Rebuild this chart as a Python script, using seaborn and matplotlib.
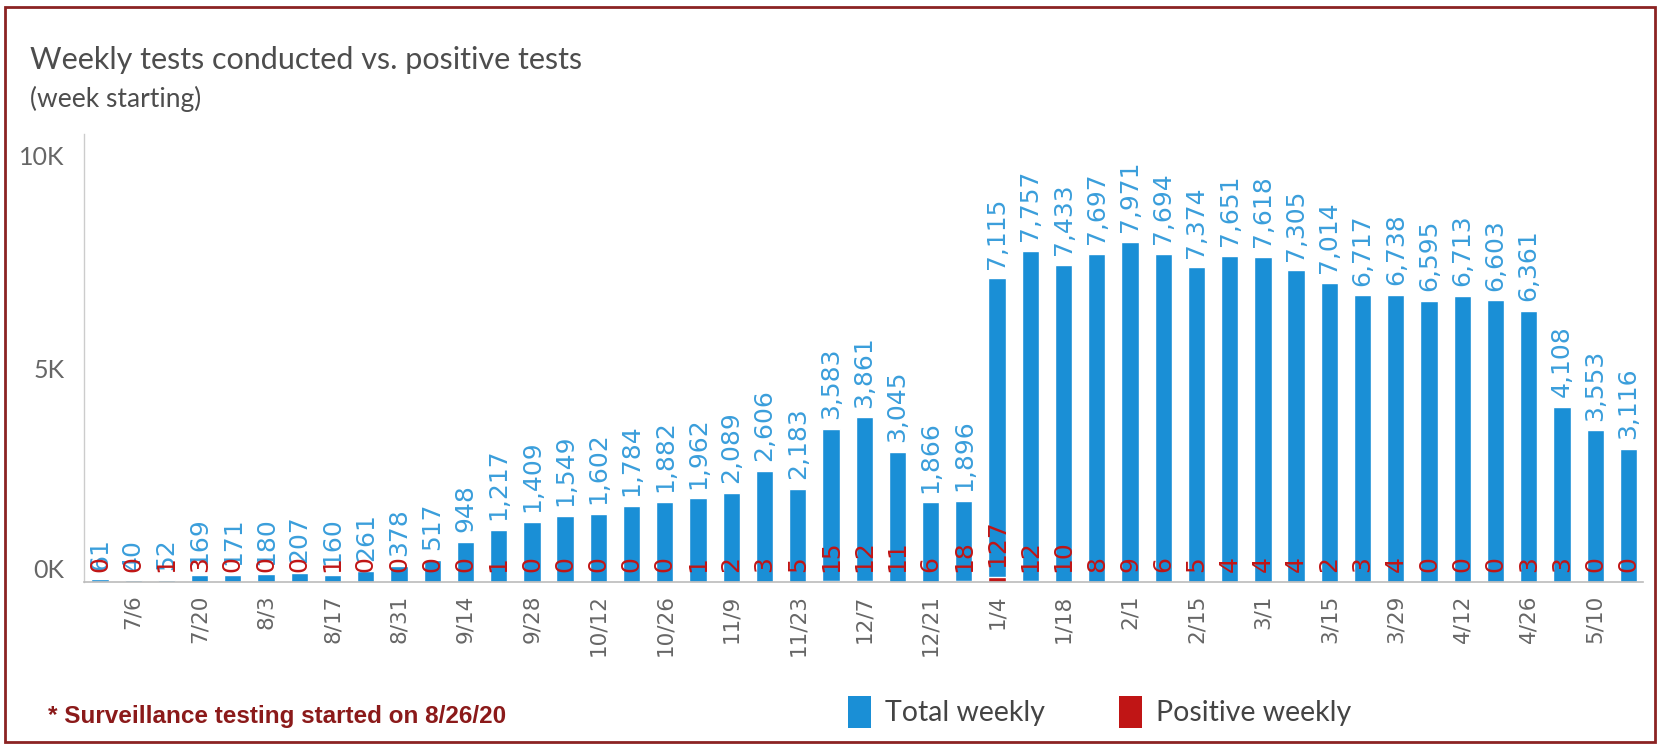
import numpy as np
import pandas as pd
import matplotlib
matplotlib.use("Agg")
import matplotlib.pyplot as plt
from matplotlib.patches import Patch, Rectangle
from matplotlib.transforms import ScaledTranslation
import seaborn as sns

# week starting dates (6/29/20 .. 5/17/21)
weeks = ["6/29", "7/6", "7/13", "7/20", "7/27", "8/3", "8/10", "8/17", "8/24", "8/31",
         "9/7", "9/14", "9/21", "9/28", "10/5", "10/12", "10/19", "10/26", "11/2", "11/9",
         "11/16", "11/23", "11/30", "12/7", "12/14", "12/21", "12/28", "1/4", "1/11", "1/18",
         "1/25", "2/1", "2/8", "2/15", "2/22", "3/1", "3/8", "3/15", "3/22", "3/29",
         "4/5", "4/12", "4/19", "4/26", "5/3", "5/10", "5/17"]

total_weekly = [61, 40, 52, 169, 171, 180, 207, 160, 261, 378,
                517, 948, 1217, 1409, 1549, 1602, 1784, 1882, 1962, 2089,
                2606, 2183, 3583, 3861, 3045, 1866, 1896, 7115, 7757, 7433,
                7697, 7971, 7694, 7374, 7651, 7618, 7305, 7014, 6717, 6738,
                6595, 6713, 6603, 6361, 4108, 3553, 3116]

positive_weekly = [0, 0, 1, 3, 0, 0, 0, 1, 0, 0,
                   0, 0, 1, 0, 0, 0, 0, 0, 1, 2,
                   3, 5, 15, 12, 11, 6, 18, 127, 12, 10,
                   8, 9, 6, 5, 4, 4, 4, 2, 3, 4,
                   0, 0, 0, 3, 3, 0, 0]

y_ticks = [0, 5000, 10000]
y_tick_labels = ["0K", "5K", "10K"]

BLUE = "#1a8fd6"
BLUE_TXT = "#3a9edb"
RED = "#c01515"
DARK_RED = "#8b1a1a"
GRAY = "#666666"

sns.set_theme(style="white")
plt.rcParams["font.family"] = ["Lato", "DejaVu Sans"]

df = pd.DataFrame({"week": weeks, "total": total_weekly, "positive": positive_weekly})

fig = plt.figure(figsize=(16.65, 7.51), dpi=100)
ax = fig.add_axes([84 / 1665, 1 - 582 / 751, (1643 - 84) / 1665, (582 - 134) / 751])

sns.barplot(data=df, x="week", y="total", color=BLUE, saturation=1, width=0.52, ax=ax)
sns.barplot(data=df, x="week", y="positive", color=RED, saturation=1, width=0.52, ax=ax)

lbl_font = "DejaVu Sans"
ax.bar_label(ax.containers[0], labels=[f"{v:,}" for v in total_weekly], rotation=90,
             padding=7, color=BLUE_TXT, fontsize=18, family=lbl_font)
ax.bar_label(ax.containers[1], labels=[str(v) for v in positive_weekly], rotation=90,
             padding=7, color=RED, fontsize=18, family=lbl_font)

ax.set_xlim(-0.48, len(weeks) - 1 + 0.44)
ax.set_ylim(0, 10500)
ax.set_yticks(y_ticks)
ax.set_yticklabels(y_tick_labels, color=GRAY, fontsize=18)
# Tableau pushes the edge label (0K) up inside the axis
zero_lab = ax.yaxis.get_major_ticks()[0].label1
zero_lab.set_verticalalignment("bottom")
zero_lab.set_transform(zero_lab.get_transform() + ScaledTranslation(0, 8 / 100, fig.dpi_scale_trans))

odd = list(range(1, len(weeks), 2))
ax.set_xticks(odd)
ax.set_xticklabels([weeks[i] for i in odd], rotation=90, color=GRAY, fontsize=15.5,
                   family=lbl_font)
ax.tick_params(axis="both", length=0)
ax.tick_params(axis="x", pad=9)
ax.tick_params(axis="y", pad=14)
ax.set_xlabel("")
ax.set_ylabel("")

sns.despine(ax=ax)
ax.spines["left"].set_color("#cccccc")
ax.spines["bottom"].set_color("#bbbbbb")
ax.spines["left"].set_linewidth(1)
ax.spines["bottom"].set_linewidth(1.2)

fig.text(30 / 1665, 1 - 60 / 751, "Weekly tests conducted vs. positive tests",
         fontsize=22, color="#4d4d4d", va="center", ha="left")
fig.text(30 / 1665, 1 - 99 / 751, "(week starting)",
         fontsize=19, color="#4d4d4d", va="center", ha="left")

fig.text(48 / 1665, 1 - 717 / 751, "* Surveillance testing started on 8/26/20",
         fontsize=17.5, color=DARK_RED, fontweight="bold", family="Liberation Sans",
         va="center", ha="left")

handles = [Patch(facecolor=BLUE, edgecolor="none"), Patch(facecolor=RED, edgecolor="none")]
fig.legend(handles, ["Total weekly", "Positive weekly"], loc="center",
           bbox_to_anchor=(1100 / 1665, 1 - 712 / 751), ncol=2, frameon=False,
           fontsize=20.5, handlelength=0.8, handleheight=1.4, handletextpad=0.5,
           columnspacing=2.6, labelcolor="#444444")

fig.patches.append(Rectangle((5 / 1665, 1 - 742 / 751), 1650 / 1665, 735 / 751,
                             transform=fig.transFigure, fill=False,
                             edgecolor="#8b2323", linewidth=2))

fig.savefig("out.png", dpi=100, facecolor="white")
